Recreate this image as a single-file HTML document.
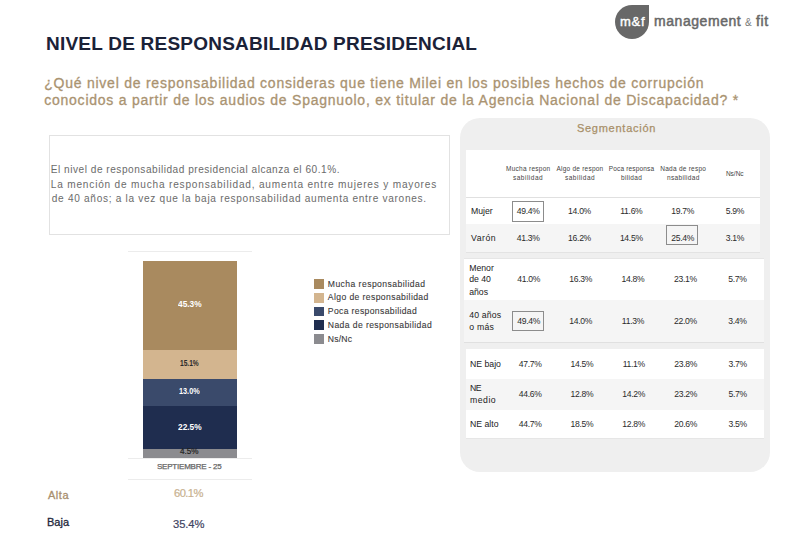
<!DOCTYPE html>
<html><head><meta charset="utf-8">
<style>
*{margin:0;padding:0;box-sizing:border-box}
html,body{width:793px;height:533px;overflow:hidden;background:#fff;font-family:"Liberation Sans",sans-serif}
.t{position:absolute;white-space:nowrap;line-height:1}
.blk{position:absolute;background:#fff}
.r{position:absolute}
.val{position:absolute;width:52px;text-align:center;font-size:8.6px;color:#2b2b2b;line-height:1;white-space:nowrap;letter-spacing:-0.3px;text-indent:0.3px}
.bx{position:absolute;border:1px solid #8c8c8c}
</style></head><body>
<div class="r" style="left:615px;top:5px;width:34px;height:34px;background:#686868;border-radius:17px 0 17px 17px"></div>
<div class="r" style="left:49px;top:135px;width:401px;height:100px;border:1px solid #e2e2e2"></div>
<div class="r" style="left:128px;top:251px;width:124px;height:1px;background:#ececec"></div>
<div class="r" style="left:143px;top:261px;width:94px;height:88.5px;background:#a98a5f"></div>
<div class="r" style="left:143px;top:349.5px;width:94px;height:29.5px;background:#d3b58f"></div>
<div class="r" style="left:143px;top:379px;width:94px;height:26.5px;background:#3a4a6b"></div>
<div class="r" style="left:143px;top:405.5px;width:94px;height:43.5px;background:#1f2d4f"></div>
<div class="r" style="left:143px;top:449px;width:94px;height:9px;background:#8b8b8f"></div>
<div class="r" style="left:128px;top:458px;width:124px;height:1px;background:#ececec"></div>
<div class="r" style="left:128px;top:479px;width:124px;height:1px;background:#ececec"></div>
<div class="r" style="left:314px;top:279px;width:10px;height:9.5px;background:#a98a5f"></div>
<div class="r" style="left:314px;top:293px;width:10px;height:9.5px;background:#d3b58f"></div>
<div class="r" style="left:314px;top:306.7px;width:10px;height:9.5px;background:#3a4a6b"></div>
<div class="r" style="left:314px;top:320.3px;width:10px;height:9.5px;background:#1f2d4f"></div>
<div class="r" style="left:314px;top:334px;width:10px;height:9.5px;background:#8b8b8f"></div>
<div class="r" style="left:460px;top:118px;width:310px;height:354px;background:#efefef;border-radius:20px"></div>
<div class="r" style="left:466px;top:150px;width:294px;height:103px;background:#fff"></div>
<div class="r" style="left:466px;top:197px;width:294px;height:1px;background:#e0e0e0"></div>
<div class="r" style="left:466px;top:224px;width:294px;height:28px;background:#f5f5f5"></div>
<div class="r" style="left:466px;top:252px;width:294px;height:1px;background:#e3e3e3"></div>
<div class="r" style="left:464px;top:258px;width:300px;height:84px;background:#fff"></div>
<div class="r" style="left:464px;top:258px;width:300px;height:1px;background:#e6e6e6"></div>
<div class="r" style="left:464px;top:300px;width:300px;height:42px;background:#f5f5f5"></div>
<div class="r" style="left:464px;top:342px;width:300px;height:1px;background:#e0e0e0"></div>
<div class="r" style="left:466px;top:349px;width:298px;height:89px;background:#fff"></div>
<div class="r" style="left:466px;top:379px;width:298px;height:31px;background:#f5f5f5"></div>
<div class="r" style="left:466px;top:438px;width:298px;height:1px;background:#e6e6e6"></div>
<div class="val" style="left:502px;top:206.72px">49.4%</div>
<div class="val" style="left:553.4px;top:206.72px">14.0%</div>
<div class="val" style="left:605.2px;top:206.72px">11.6%</div>
<div class="val" style="left:656.6px;top:206.72px">19.7%</div>
<div class="val" style="left:708.8px;top:206.72px">5.9%</div>
<div class="val" style="left:502px;top:234.32px">41.3%</div>
<div class="val" style="left:553.4px;top:234.32px">16.2%</div>
<div class="val" style="left:605.2px;top:234.32px">14.5%</div>
<div class="val" style="left:656.6px;top:234.32px">25.4%</div>
<div class="val" style="left:708.8px;top:234.32px">3.1%</div>
<div class="val" style="left:502.5px;top:274.62px">41.0%</div>
<div class="val" style="left:554.6px;top:274.62px">16.3%</div>
<div class="val" style="left:606.8px;top:274.62px">14.8%</div>
<div class="val" style="left:659.3px;top:274.62px">23.1%</div>
<div class="val" style="left:711.3px;top:274.62px">5.7%</div>
<div class="val" style="left:502.5px;top:316.82px">49.4%</div>
<div class="val" style="left:554.6px;top:316.82px">14.0%</div>
<div class="val" style="left:606.8px;top:316.82px">11.3%</div>
<div class="val" style="left:659.3px;top:316.82px">22.0%</div>
<div class="val" style="left:711.3px;top:316.82px">3.4%</div>
<div class="val" style="left:504px;top:359.72px">47.7%</div>
<div class="val" style="left:555.8px;top:359.72px">14.5%</div>
<div class="val" style="left:607.6px;top:359.72px">11.1%</div>
<div class="val" style="left:659.6px;top:359.72px">23.8%</div>
<div class="val" style="left:711.6px;top:359.72px">3.7%</div>
<div class="val" style="left:504px;top:390.02px">44.6%</div>
<div class="val" style="left:555.8px;top:390.02px">12.8%</div>
<div class="val" style="left:607.6px;top:390.02px">14.2%</div>
<div class="val" style="left:659.6px;top:390.02px">23.2%</div>
<div class="val" style="left:711.6px;top:390.02px">5.7%</div>
<div class="val" style="left:504px;top:420.22px">44.7%</div>
<div class="val" style="left:555.8px;top:420.22px">18.5%</div>
<div class="val" style="left:607.6px;top:420.22px">12.8%</div>
<div class="val" style="left:659.6px;top:420.22px">20.6%</div>
<div class="val" style="left:711.6px;top:420.22px">3.5%</div>
<div class="bx" style="left:512px;top:201px;width:32px;height:20.5px"></div>
<div class="bx" style="left:666px;top:225px;width:32px;height:20px"></div>
<div class="bx" style="left:512.4px;top:311.3px;width:32px;height:19.5px"></div>
<div class="t" style="left:46.00px;top:33.92px;font-size:19px;color:#1b2238;letter-spacing:0.222px;font-weight:bold">NIVEL DE RESPONSABILIDAD PRESIDENCIAL</div>
<div class="t" style="left:44.20px;top:76.15px;font-size:14px;color:#aa9371;letter-spacing:0.763px;-webkit-text-stroke:0.3px #aa9371">¿Qué nivel de responsabilidad consideras que tiene Milei en los posibles hechos de corrupción</div>
<div class="t" style="left:44.20px;top:92.75px;font-size:14px;color:#aa9371;letter-spacing:0.767px;-webkit-text-stroke:0.3px #aa9371">conocidos a partir de los audios de Spagnuolo, ex titular de la Agencia Nacional de Discapacidad? *</div>
<div class="t" style="left:50.80px;top:164.65px;font-size:10.1px;color:#6b6b6b;letter-spacing:0.516px">El nivel de responsabilidad presidencial alcanza el 60.1%.</div>
<div class="t" style="left:50.80px;top:179.55px;font-size:10.1px;color:#6b6b6b;letter-spacing:0.803px">La mención de mucha responsabilidad, aumenta entre mujeres y mayores</div>
<div class="t" style="left:51.80px;top:194.45px;font-size:10.1px;color:#6b6b6b;letter-spacing:0.697px">de 40 años; a la vez que la baja responsabilidad aumenta entre varones.</div>
<div class="t" style="left:620.00px;top:15.00px;font-size:13px;color:#ffffff;letter-spacing:0.700px;-webkit-text-stroke:0.4px #fff">m&amp;f</div>
<div class="t" style="left:654.00px;top:14.05px;font-size:14px;color:#686868;letter-spacing:0.556px;-webkit-text-stroke:0.5px #686868">management</div>
<div class="t" style="left:745.00px;top:17.54px;font-size:10px;color:#7a7a7a;letter-spacing:0.000px">&amp;</div>
<div class="t" style="left:756.00px;top:14.05px;font-size:14px;color:#686868;letter-spacing:0.600px;-webkit-text-stroke:0.5px #686868">fit</div>
<div class="t" style="left:178.00px;top:300.34px;font-size:8.7px;color:#ffffff;letter-spacing:0.000px;font-weight:bold;transform:scaleX(0.9600);transform-origin:0 0">45.3%</div>
<div class="t" style="left:180.00px;top:358.94px;font-size:8.7px;color:#2a2a2a;letter-spacing:0.000px;font-weight:bold;transform:scaleX(0.7600);transform-origin:0 0">15.1%</div>
<div class="t" style="left:179.00px;top:386.94px;font-size:8.7px;color:#ffffff;letter-spacing:0.000px;font-weight:bold;transform:scaleX(0.8400);transform-origin:0 0">13.0%</div>
<div class="t" style="left:178.00px;top:422.84px;font-size:8.7px;color:#ffffff;letter-spacing:0.000px;font-weight:bold;transform:scaleX(0.9600);transform-origin:0 0">22.5%</div>
<div class="t" style="left:180.00px;top:446.88px;font-size:9px;color:#222222;letter-spacing:0.000px;-webkit-text-stroke:0.2px #222;transform:scaleX(0.9048);transform-origin:0 0">4.5%</div>
<div class="t" style="left:157.00px;top:463.23px;font-size:8.0px;color:#666666;letter-spacing:-0.214px;-webkit-text-stroke:0.25px #666666">SEPTIEMBRE - 25</div>
<div class="t" style="left:327.80px;top:279.72px;font-size:8.6px;color:#3a3a3a;letter-spacing:0.440px;-webkit-text-stroke:0.1px #3a3a3a">Mucha responsabilidad</div>
<div class="t" style="left:327.80px;top:293.42px;font-size:8.6px;color:#3a3a3a;letter-spacing:0.400px;-webkit-text-stroke:0.1px #3a3a3a">Algo de responsabilidad</div>
<div class="t" style="left:327.80px;top:307.12px;font-size:8.6px;color:#3a3a3a;letter-spacing:0.358px;-webkit-text-stroke:0.1px #3a3a3a">Poca responsabilidad</div>
<div class="t" style="left:327.80px;top:320.82px;font-size:8.6px;color:#3a3a3a;letter-spacing:0.400px;-webkit-text-stroke:0.1px #3a3a3a">Nada de responsabilidad</div>
<div class="t" style="left:327.80px;top:334.52px;font-size:8.6px;color:#3a3a3a;letter-spacing:0.200px;-webkit-text-stroke:0.1px #3a3a3a">Ns/Nc</div>
<div class="t" style="left:48.00px;top:489.69px;font-size:11px;color:#a88f6d;letter-spacing:0.533px;-webkit-text-stroke:0.3px #a88f6d">Alta</div>
<div class="t" style="left:47.00px;top:517.09px;font-size:11px;color:#23273b;letter-spacing:0.000px;-webkit-text-stroke:0.3px #23273b">Baja</div>
<div class="t" style="left:174.10px;top:488.22px;font-size:11.2px;color:#c8b190;letter-spacing:-0.600px;-webkit-text-stroke:0.2px #c8b190">60.1%</div>
<div class="t" style="left:173.10px;top:518.92px;font-size:11.2px;color:#3f4462;letter-spacing:-0.100px;-webkit-text-stroke:0.2px #3f4462">35.4%</div>
<div class="t" style="left:576.90px;top:122.89px;font-size:11px;color:#a88f69;letter-spacing:0.745px;-webkit-text-stroke:0.25px #a88f69">Segmentación</div>
<div class="t" style="left:506.00px;top:166.10px;font-size:6.5px;color:#444444;letter-spacing:0.273px">Mucha respon</div>
<div class="t" style="left:513.00px;top:174.50px;font-size:6.5px;color:#444444;letter-spacing:0.500px">sabilidad</div>
<div class="t" style="left:556.50px;top:166.10px;font-size:6.5px;color:#444444;letter-spacing:0.231px">Algo de respon</div>
<div class="t" style="left:565.00px;top:174.50px;font-size:6.5px;color:#444444;letter-spacing:0.500px">sabilidad</div>
<div class="t" style="left:608.70px;top:166.10px;font-size:6.5px;color:#444444;letter-spacing:0.167px">Poca responsa</div>
<div class="t" style="left:621.00px;top:174.50px;font-size:6.5px;color:#444444;letter-spacing:0.333px">bilidad</div>
<div class="t" style="left:660.30px;top:166.10px;font-size:6.5px;color:#444444;letter-spacing:0.250px">Nada de respo</div>
<div class="t" style="left:667.00px;top:174.50px;font-size:6.5px;color:#444444;letter-spacing:0.333px">nsabilidad</div>
<div class="t" style="left:725.90px;top:170.80px;font-size:6.5px;color:#444444;letter-spacing:0.000px">Ns/Nc</div>
<div class="t" style="left:471.00px;top:207.04px;font-size:8.7px;color:#222222;letter-spacing:0.000px">Mujer</div>
<div class="t" style="left:471.10px;top:234.44px;font-size:8.7px;color:#222222;letter-spacing:0.500px">Varón</div>
<div class="t" style="left:469.20px;top:263.54px;font-size:8.7px;color:#222222;letter-spacing:-0.000px">Menor</div>
<div class="t" style="left:469.20px;top:275.44px;font-size:8.7px;color:#222222;letter-spacing:0.000px">de 40</div>
<div class="t" style="left:469.20px;top:287.94px;font-size:8.7px;color:#222222;letter-spacing:0.000px">años</div>
<div class="t" style="left:469.20px;top:311.34px;font-size:8.7px;color:#222222;letter-spacing:0.167px">40 años</div>
<div class="t" style="left:469.20px;top:323.34px;font-size:8.7px;color:#222222;letter-spacing:0.250px">o más</div>
<div class="t" style="left:470.00px;top:359.74px;font-size:8.7px;color:#222222;letter-spacing:0.000px">NE bajo</div>
<div class="t" style="left:470.00px;top:384.14px;font-size:8.7px;color:#222222;letter-spacing:-0.600px">NE</div>
<div class="t" style="left:470.00px;top:396.44px;font-size:8.7px;color:#222222;letter-spacing:0.500px">medio</div>
<div class="t" style="left:470.00px;top:420.44px;font-size:8.7px;color:#222222;letter-spacing:-0.000px">NE alto</div>
</body></html>
